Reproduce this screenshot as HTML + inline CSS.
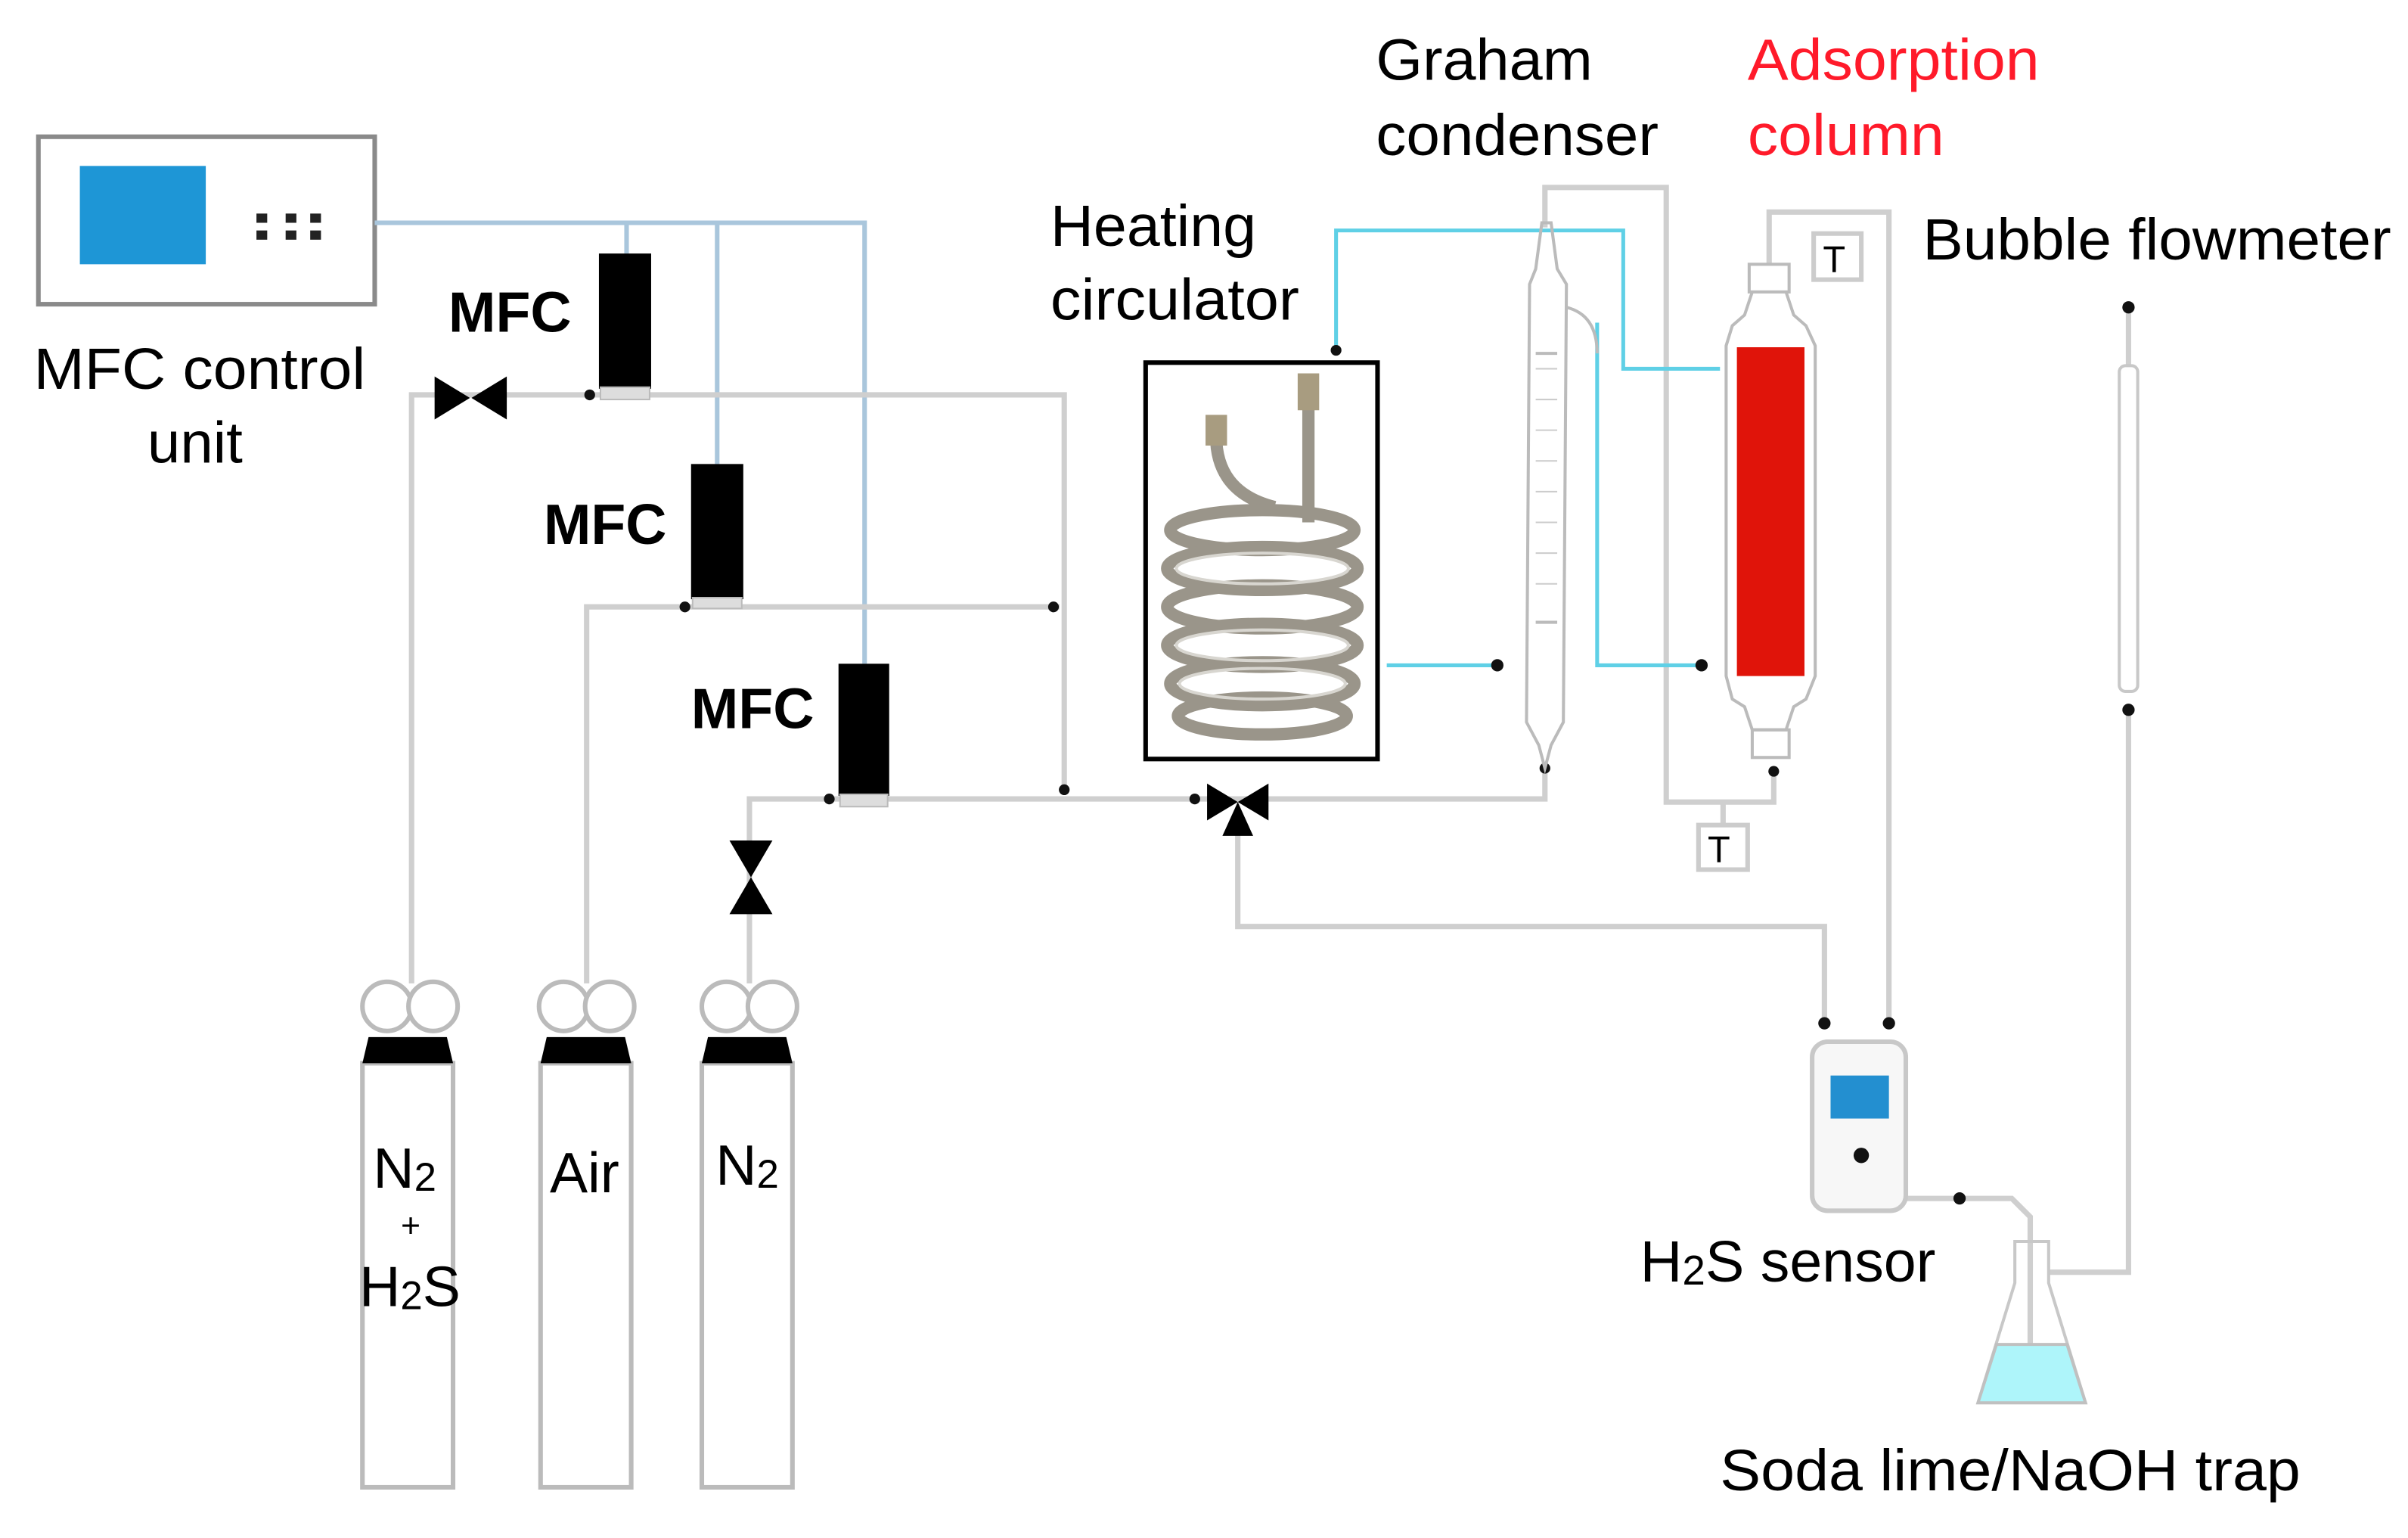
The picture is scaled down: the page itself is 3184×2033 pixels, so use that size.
<!DOCTYPE html>
<html><head><meta charset="utf-8"><style>
html,body{margin:0;padding:0;background:#fff;}
svg{display:block;}
text{font-family:"Liberation Sans",Arial,sans-serif;}
</style></head><body>
<svg width="3184" height="2033" viewBox="0 0 1568 1001" preserveAspectRatio="none" xmlns="http://www.w3.org/2000/svg">
<rect width="1568" height="1001" fill="#fff"/>
<!-- control unit -->
<rect x="25" y="89" width="219" height="109" fill="#fff" stroke="#8a8a8a" stroke-width="3"/>
<rect x="52" y="108" width="82" height="64" fill="#1e96d6"/>
<g fill="#222"><rect x="167" y="139" width="7" height="6"/><rect x="186" y="139" width="7" height="6"/><rect x="202" y="139" width="7" height="6"/><rect x="167" y="150" width="7" height="6"/><rect x="186" y="150" width="7" height="6"/><rect x="202" y="150" width="7" height="6"/></g>
<text x="22" y="253" font-size="38" textLength="216" lengthAdjust="spacingAndGlyphs">MFC control</text>
<text x="96" y="301" font-size="38" textLength="62" lengthAdjust="spacingAndGlyphs">unit</text>
<!-- blue control wires -->
<g stroke="#a9c6dc" stroke-width="3" fill="none">
<polyline points="244,145 563,145 563,432"/>
<line x1="408" y1="145" x2="408" y2="165"/>
<line x1="467" y1="145" x2="467" y2="302"/>
</g>
<!-- gray gas lines -->
<g stroke="#cfcfcf" stroke-width="3.5" fill="none">
<polyline points="268,640 268,257 693,257 693,515"/>
<polyline points="382,640 382,395 690,395"/>
<polyline points="488,640 488,520 1006,520 1006,500"/>
<polyline points="806,530 806,603 1188,603 1188,668"/>
<polyline points="1006,148 1006,122 1085,122 1085,522 1155,522 1155,500"/>
<line x1="1122" y1="522" x2="1122" y2="537"/>
<polyline points="1152,172 1152,138 1230,138 1230,668"/>
<polyline points="1240,780 1310,780 1322,792 1322,885"/>
<polyline points="1334,828 1386,828 1386,460"/>
<line x1="1386" y1="200" x2="1386" y2="238"/>
</g>
<!-- cyan water lines -->
<g stroke="#5fd0e6" stroke-width="2.5" fill="none">
<polyline points="870,228 870,150 1057,150 1057,240 1120,240"/>
<line x1="903" y1="433" x2="975" y2="433"/>
<polyline points="1040,210 1040,433 1110,433"/>
</g>
<!-- junction dots -->
<g fill="#111">
<circle cx="384" cy="257" r="3.5"/><circle cx="446" cy="395" r="3.5"/><circle cx="686" cy="395" r="3.5"/>
<circle cx="540" cy="520" r="3.5"/><circle cx="693" cy="514" r="3.5"/><circle cx="778" cy="520" r="3.5"/>
<circle cx="870" cy="228" r="3.5"/><circle cx="975" cy="433" r="4"/><circle cx="1108" cy="433" r="4"/>
<circle cx="1006" cy="500" r="3.5"/><circle cx="1155" cy="502" r="3.5"/>
<circle cx="1188" cy="666" r="4"/><circle cx="1230" cy="666" r="4"/><circle cx="1276" cy="780" r="4"/>
<circle cx="1386" cy="200" r="4"/><circle cx="1386" cy="462" r="4"/>
</g>
<!-- MFCs -->
<rect x="390" y="165" width="34" height="88" fill="#000"/><rect x="391" y="252" width="32" height="8" fill="#ddd" stroke="#bbb"/>
<rect x="450" y="302" width="34" height="88" fill="#000"/><rect x="451" y="389" width="32" height="7" fill="#ddd" stroke="#bbb"/>
<rect x="546" y="432" width="33" height="86" fill="#000"/><rect x="547" y="517" width="31" height="8" fill="#ddd" stroke="#bbb"/>
<g font-size="37" font-weight="bold"><text x="292" y="216">MFC</text><text x="354" y="354">MFC</text><text x="450" y="474">MFC</text></g>
<!-- valves -->
<polygon points="283,245 306,259 283,273" fill="#000"/><polygon points="330,245 307,259 330,273" fill="#000"/>
<polygon points="475,547 503,547 489,571" fill="#000"/><polygon points="475,595 503,595 489,571" fill="#000"/>
<polygon points="786,510 806,522 786,534" fill="#000"/><polygon points="826,510 806,522 826,534" fill="#000"/><polygon points="796,544 816,544 806,522" fill="#000"/>
<!-- cylinders -->
<g fill="#fff" stroke="#bbb" stroke-width="3">
<circle cx="252" cy="655" r="16"/><circle cx="282" cy="655" r="16"/>
<circle cx="367" cy="655" r="16"/><circle cx="397" cy="655" r="16"/>
<circle cx="473" cy="655" r="16"/><circle cx="503" cy="655" r="16"/>
<rect x="236" y="692" width="59" height="276"/><rect x="352" y="692" width="59" height="276"/><rect x="457" y="692" width="59" height="276"/>
</g>
<g fill="#000"><path d="M236,692 L240,675 L291,675 L295,692Z"/><path d="M352,692 L356,675 L407,675 L411,692Z"/><path d="M457,692 L461,675 L512,675 L516,692Z"/></g>
<g font-size="37"><text x="243" y="773">N<tspan font-size="26" dy="2">2</tspan></text>
<text x="261" y="805" font-size="22">+</text>
<text x="234" y="850">H<tspan font-size="26" dy="2">2</tspan><tspan dy="-2">S</tspan></text>
<text x="358" y="776">Air</text>
<text x="466" y="771">N<tspan font-size="26" dy="2">2</tspan></text></g>
<!-- heating circulator -->
<rect x="746" y="236" width="151" height="258" fill="#fff" stroke="#000" stroke-width="3"/>
<g fill="none" stroke="#9a958a" stroke-width="8">
<path d="M792,280 Q790,320 830,330"/><line x1="852" y1="260" x2="852" y2="340"/>
<ellipse cx="822" cy="345" rx="60" ry="13"/><ellipse cx="822" cy="370" rx="62" ry="14"/><ellipse cx="822" cy="395" rx="62" ry="14"/><ellipse cx="822" cy="420" rx="62" ry="14"/><ellipse cx="822" cy="445" rx="60" ry="14"/><ellipse cx="822" cy="466" rx="55" ry="12"/>
</g>
<g fill="none" stroke="#d8d6d0" stroke-width="2">
<ellipse cx="822" cy="370" rx="56" ry="10"/><ellipse cx="822" cy="420" rx="56" ry="10"/><ellipse cx="822" cy="445" rx="54" ry="10"/>
</g>
<rect x="785" y="270" width="14" height="20" fill="#a89c80"/><rect x="845" y="243" width="14" height="24" fill="#a89c80"/>
<text x="684" y="160" font-size="38" textLength="134" lengthAdjust="spacingAndGlyphs">Heating</text>
<text x="684" y="208" font-size="38" textLength="162" lengthAdjust="spacingAndGlyphs">circulator</text>
<!-- condenser -->
<g fill="none" stroke="#bbb" stroke-width="2">
<path d="M1004,145 L1000,175 L996,185 L994,470 L1002,485 L1006,500 L1010,485 L1018,470 L1020,185 L1014,175 L1010,145Z"/>
<path d="M1020,200 Q1040,205 1040,230"/>
<line x1="1000" y1="230" x2="1014" y2="230"/><line x1="1000" y1="405" x2="1014" y2="405"/>
</g>
<g stroke="#ccc" stroke-width="1">
<line x1="1000" y1="240" x2="1014" y2="240"/><line x1="1000" y1="260" x2="1014" y2="260"/><line x1="1000" y1="280" x2="1014" y2="280"/><line x1="1000" y1="300" x2="1014" y2="300"/><line x1="1000" y1="320" x2="1014" y2="320"/><line x1="1000" y1="340" x2="1014" y2="340"/><line x1="1000" y1="360" x2="1014" y2="360"/><line x1="1000" y1="380" x2="1014" y2="380"/>
</g>
<text x="896" y="52" font-size="38" textLength="141" lengthAdjust="spacingAndGlyphs">Graham</text>
<text x="896" y="101" font-size="38" textLength="184" lengthAdjust="spacingAndGlyphs">condenser</text>
<!-- adsorption column -->
<g fill="none" stroke="#bbb" stroke-width="2">
<rect x="1139" y="172" width="26" height="18"/>
<path d="M1141,190 L1136,205 L1128,212 L1124,225 L1124,440 L1128,455 L1136,460 L1141,475 L1163,475 L1168,460 L1176,455 L1182,440 L1182,225 L1176,212 L1168,205 L1163,190"/>
<rect x="1141" y="475" width="24" height="18"/>
</g>
<rect x="1131" y="226" width="44" height="214" fill="#e0140a"/>
<rect x="1181" y="152" width="31" height="30" fill="#fff" stroke="#ccc" stroke-width="3"/><text x="1187" y="177" font-size="24" font-family="Liberation Serif">T</text>
<rect x="1106" y="537" width="32" height="29" fill="#fff" stroke="#ccc" stroke-width="3"/><text x="1112" y="561" font-size="24" font-family="Liberation Serif">T</text>
<text x="1138" y="52" font-size="38" fill="#ff1a2a" textLength="190" lengthAdjust="spacingAndGlyphs">Adsorption</text>
<text x="1138" y="101" font-size="38" fill="#ff1a2a" textLength="128" lengthAdjust="spacingAndGlyphs">column</text>
<!-- flowmeter -->
<rect x="1380" y="238" width="12" height="212" rx="4" fill="#fff" stroke="#c8c8c8" stroke-width="2"/>
<text x="1252" y="169" font-size="38" textLength="305" lengthAdjust="spacingAndGlyphs">Bubble flowmeter</text>
<!-- sensor -->
<rect x="1180" y="678" width="61" height="110" rx="10" fill="#f7f7f7" stroke="#c8c8c8" stroke-width="3"/>
<rect x="1192" y="700" width="38" height="28" fill="#238fd0"/>
<circle cx="1212" cy="752" r="5" fill="#111"/>
<text x="1068" y="834" font-size="38">H<tspan font-size="27" dy="2">2</tspan><tspan dy="-2">S sensor</tspan></text>
<!-- flask -->
<path d="M1312,808 L1334,808 L1334,835 L1358,913 L1288,913 L1312,835Z" fill="none" stroke="#c8c8c8" stroke-width="2"/>
<path d="M1300,875 L1346,875 L1358,913 L1288,913Z" fill="#aef5fa" stroke="#c0c0c0" stroke-width="2"/>
<text x="1120" y="970" font-size="38" textLength="378" lengthAdjust="spacingAndGlyphs">Soda lime/NaOH trap</text>
</svg>
</body></html>
